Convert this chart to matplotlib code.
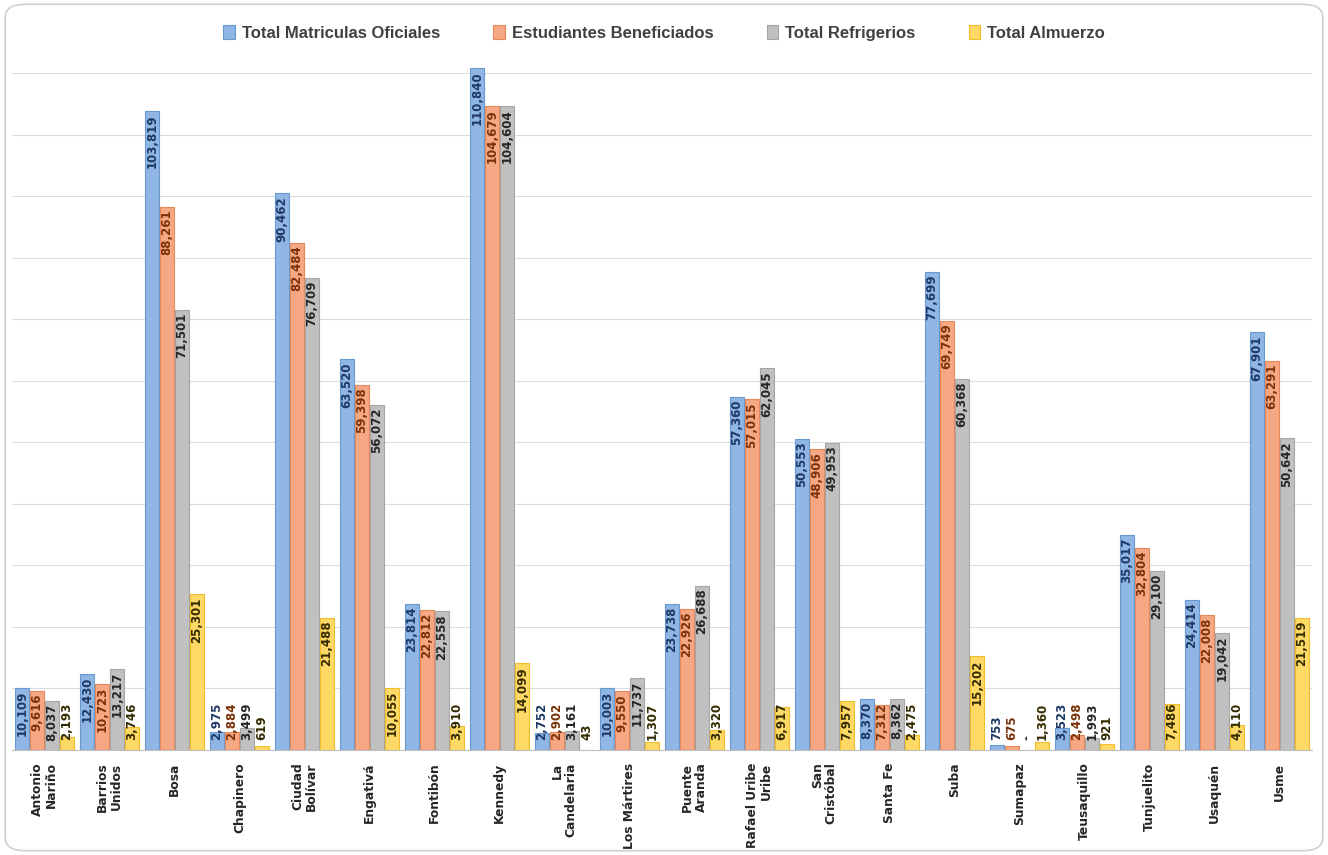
import matplotlib
matplotlib.use('Agg')
import matplotlib.pyplot as plt
from matplotlib.patches import FancyBboxPatch
import numpy as np

# datos por localidad
localidades = ['Antonio\nNariño', 'Barrios\nUnidos', 'Bosa', 'Chapinero', 'Ciudad\nBolívar',
               'Engativá', 'Fontibón', 'Kennedy', 'La\nCandelaria', 'Los Mártires',
               'Puente\nAranda', 'Rafael Uribe\nUribe', 'San\nCristóbal', 'Santa Fe', 'Suba',
               'Sumapaz', 'Teusaquillo', 'Tunjuelito', 'Usaquén', 'Usme']
matriculas = [10109, 12430, 103819, 2975, 90462, 63520, 23814, 110840, 2752, 10003,
              23738, 57360, 50553, 8370, 77699, 753, 3523, 35017, 24414, 67901]
beneficiados = [9616, 10723, 88261, 2884, 82484, 59398, 22812, 104679, 2902, 9550,
                22926, 57015, 48906, 7312, 69749, 675, 2498, 32804, 22008, 63291]
refrigerios = [8037, 13217, 71501, 3499, 76709, 56072, 22558, 104604, 3161, 11737,
               26688, 62045, 49953, 8362, 60368, 0, 1993, 29100, 19042, 50642]
almuerzo = [2193, 3746, 25301, 619, 21488, 10055, 3910, 14099, 43, 1307,
            3320, 6917, 7957, 2475, 15202, 1360, 921, 7486, 4110, 21519]

series = ['Total Matriculas Oficiales', 'Estudiantes Beneficiados', 'Total Refrigerios', 'Total Almuerzo']
valores = [matriculas, beneficiados, refrigerios, almuerzo]
colores = ['#8FB6E4', '#F6A884', '#C0C0C0', '#FFD966']
bordes = ['#6A98D0', '#E8875A', '#A5A5A5', '#F0BE2C']
color_txt = ['#1F3864', '#7A3208', '#262626', '#332B00']

plt.rcParams['font.family'] = ['Liberation Sans', 'DejaVu Sans']

fig = plt.figure(figsize=(13.28, 8.55), dpi=100)
marco = FancyBboxPatch((0.004, 0.005), 0.992, 0.99, boxstyle='round,pad=0,rounding_size=0.015',
                       transform=fig.transFigure, facecolor='white', edgecolor='#D0D0D0', lw=1.2,
                       zorder=-5)
fig.patches.append(marco)

ax = fig.add_axes([12/1328, 1-750/855, 1300/1328, 689/855])
ax.set_zorder(2)
ax.set_facecolor('none')
x = np.arange(len(localidades))
w = 0.232
offs = [-1.5*w, -0.5*w, 0.5*w, 1.5*w]

for i in range(4):
    ax.bar(x + offs[i], valores[i], width=w*0.93, color=colores[i], edgecolor=bordes[i],
           linewidth=0.8, label=series[i], zorder=2)

ax.set_xlim(-0.5, len(localidades)-0.5)
ax.set_ylim(0, 112000)
ax.set_yticks(np.arange(10000, 112000, 10000))
ax.yaxis.grid(True, color='#DCDCDC', lw=0.8, zorder=0)
ax.tick_params(axis='y', left=False, labelleft=False)
for s in ['top', 'right', 'left']:
    ax.spines[s].set_visible(False)
ax.spines['bottom'].set_color('#BFBFBF')
ax.set_xticks(x)
ax.set_xticklabels(localidades, rotation=90, fontsize=8.8, fontweight='bold', color='#262626',
                   multialignment='right', va='top', family='DejaVu Sans', linespacing=1.05)
ax.tick_params(axis='x', length=0, pad=9)

# etiquetas de datos
textos = []
for i in range(4):
    for j, v in enumerate(valores[i]):
        etiqueta = '-' if v == 0 else f'{v:,}'
        t = ax.annotate(etiqueta, (x[j] + offs[i], v), xytext=(0, -2), textcoords='offset points',
                        rotation=90, ha='center', va='top', fontsize=8.5, fontweight='bold',
                        family='DejaVu Sans', color=color_txt[i], zorder=3)
        textos.append((t, x[j] + offs[i]))

fig.canvas.draw()
r = fig.canvas.get_renderer()
base = ax.transData.transform((0, 0))[1]
for t, xp in textos:
    bb = t.get_window_extent(r)
    if bb.y0 < base + 9:
        t.xy = (xp, 0)
        t.set_position((0, 7))
        t.set_va('bottom')

fig.legend(loc='upper center', bbox_to_anchor=(0.5, 0.988), ncol=4, frameon=False,
           prop={'size': 12, 'weight': 'bold'}, labelcolor='#404040', handlelength=0.7,
           handleheight=0.9, handletextpad=0.4, columnspacing=3.2)

fig.savefig('out.png', dpi=100)
